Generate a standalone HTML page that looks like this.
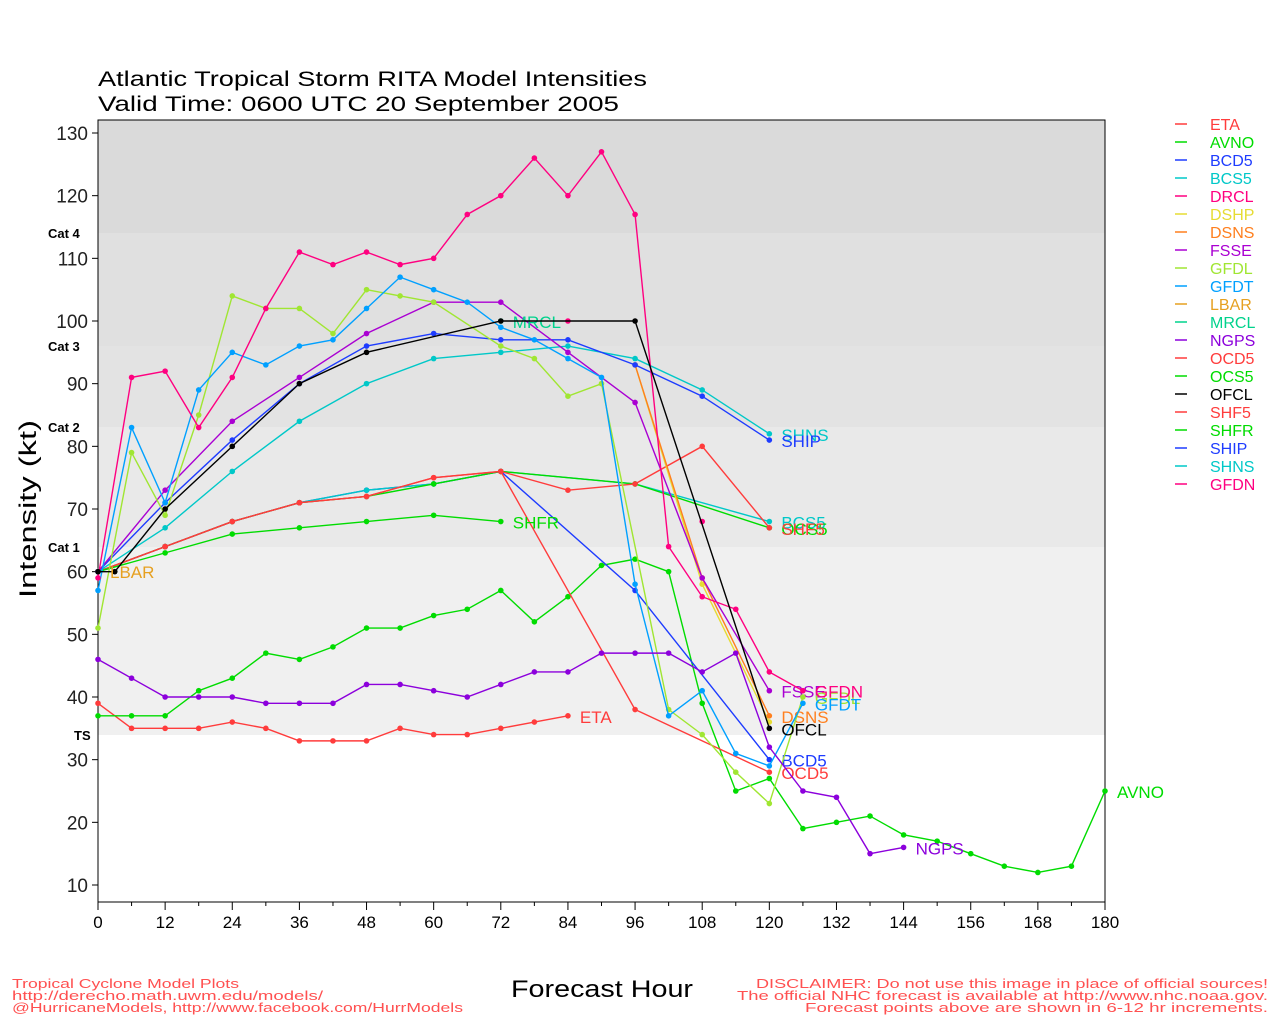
<!DOCTYPE html>
<html><head><meta charset="utf-8"><style>
html,body{margin:0;padding:0;background:#fff;}
svg{display:block;font-family:"Liberation Sans",sans-serif;}
</style></head><body>
<svg id="s" width="1280" height="1024" xmlns="http://www.w3.org/2000/svg">
<rect x="98" y="120" width="1007" height="113" fill="#dadada"/>
<rect x="98" y="233" width="1007" height="113" fill="#e0e0e0"/>
<rect x="98" y="346" width="1007" height="81" fill="#e3e3e3"/>
<rect x="98" y="427" width="1007" height="120" fill="#e9e9e9"/>
<rect x="98" y="547" width="1007" height="188" fill="#f0f0f0"/>
<rect x="98" y="120" width="1007" height="782" fill="none" stroke="#000" stroke-width="1"/>
<text x="98" y="86" font-size="21" fill="#000" textLength="549" lengthAdjust="spacingAndGlyphs">Atlantic Tropical Storm RITA Model Intensities</text>
<text x="98" y="111" font-size="21" fill="#000" textLength="521" lengthAdjust="spacingAndGlyphs">Valid Time: 0600 UTC 20 September 2005</text>
<g font-size="13" font-weight="bold" fill="#000">
<text x="48" y="238">Cat 4</text><text x="48" y="351">Cat 3</text><text x="48" y="432">Cat 2</text><text x="48" y="552">Cat 1</text><text x="74" y="740">TS</text>
</g>
<text transform="translate(36,509) rotate(-90)" text-anchor="middle" font-size="24" fill="#000" textLength="178" lengthAdjust="spacingAndGlyphs">Intensity (kt)</text>
<text x="511" y="997" font-size="24" fill="#000" textLength="182" lengthAdjust="spacingAndGlyphs">Forecast Hour</text>
<g font-size="13" fill="#ff5050">
<text x="12" y="988" textLength="227" lengthAdjust="spacingAndGlyphs">Tropical Cyclone Model Plots</text>
<text x="12" y="1000" textLength="311" lengthAdjust="spacingAndGlyphs">http://derecho.math.uwm.edu/models/</text>
<text x="12" y="1012" textLength="451" lengthAdjust="spacingAndGlyphs">@HurricaneModels, http://www.facebook.com/HurrModels</text>
<text x="756" y="988" textLength="512" lengthAdjust="spacingAndGlyphs">DISCLAIMER: Do not use this image in place of official sources!</text>
<text x="737" y="1000" textLength="531" lengthAdjust="spacingAndGlyphs">The official NHC forecast is available at http://www.nhc.noaa.gov.</text>
<text x="805" y="1012" textLength="463" lengthAdjust="spacingAndGlyphs">Forecast points above are shown in 6-12 hr increments.</text>
</g>
<g id="ax"></g><g id="ser"></g><g id="leg"></g>
</svg>
<script>
var NS="http://www.w3.org/2000/svg";
function X(h){return 98+h*1007/180;}
function Y(v){return 133+(130-v)*752/120;}
function el(p,t,a,txt){var e=document.createElementNS(NS,t);for(var k in a)e.setAttribute(k,a[k]);if(txt!==undefined)e.textContent=txt;p.appendChild(e);return e;}
var ax=document.getElementById('ax');
for(var v=10;v<=130;v+=10){el(ax,'line',{x1:92,x2:98,y1:Y(v),y2:Y(v),stroke:'#000'});el(ax,'text',{x:88,y:Y(v)+7,'text-anchor':'end','font-size':19,fill:'#222'},''+v);}
for(var h=0;h<=180;h+=12){el(ax,'line',{x1:X(h),x2:X(h),y1:902,y2:910,stroke:'#000'});el(ax,'text',{x:X(h),y:928,'text-anchor':'middle','font-size':17,fill:'#000'},''+h);}
for(var h=6;h<180;h+=12){el(ax,'line',{x1:X(h),x2:X(h),y1:902,y2:906,stroke:'#000'});}
var S=[
["ETA","#ff3c3c",[[0,39],[6,35],[12,35],[18,35],[24,36],[30,35],[36,33],[42,33],[48,33],[54,35],[60,34],[66,34],[72,35],[78,36],[84,37]]],
["AVNO","#00dc00",[[0,37],[6,37],[12,37],[18,41],[24,43],[30,47],[36,46],[42,48],[48,51],[54,51],[60,53],[66,54],[72,57],[78,52],[84,56],[90,61],[96,62],[102,60],[108,39],[114,25],[120,27],[126,19],[132,20],[138,21],[144,18],[150,17],[156,15],[162,13],[168,12],[174,13],[180,25]]],
["BCD5","#1e3cff",[[0,60],[12,64],[24,68],[36,71],[48,73],[60,74],[72,76],[96,57],[120,30]]],
["BCS5","#00c8c8",[[0,60],[12,64],[24,68],[36,71],[48,73],[60,74],[72,76],[96,74],[120,68]]],
["OCS5","#00dc00",[[0,60],[12,64],[24,68],[36,71],[48,72],[60,74],[72,76],[96,74],[120,67]]],
["SHF5","#ff3c3c",[[0,60],[12,64],[24,68],[36,71],[48,72],[60,75],[72,76],[84,73],[96,74],[108,80],[120,67]]],
["OCD5","#ff3c3c",[[0,60],[12,64],[24,68],[36,71],[48,72],[60,75],[72,76],[96,38],[120,28]]],
["SHFR","#00dc00",[[0,60],[12,63],[24,66],[36,67],[48,68],[60,69],[72,68]]],
["SHNS","#00c8c8",[[0,60],[12,67],[24,76],[36,84],[48,90],[60,94],[72,95],[84,96],[96,94],[108,89],[120,82]]],
["DSHP","#e6dc32",[[96,93],[108,58],[120,36]]],
["DSNS","#ff7f1e",[[96,93],[108,59],[120,37]]],
["SHIP","#1e3cff",[[0,60],[12,71],[24,81],[36,90],[48,96],[60,98],[72,97],[84,97],[96,93],[108,88],[120,81]]],
["FSSE","#aa00d2",[[0,60],[12,73],[24,84],[36,91],[48,98],[60,103],[72,103],[84,95],[96,87],[108,59],[120,41]]],
["GFDL","#a0e632",[[0,51],[6,79],[12,69],[18,85],[24,104],[30,102],[36,102],[42,98],[48,105],[54,104],[60,103],[72,96],[78,94],[84,88],[90,90],[102,38],[108,34],[114,28],[120,23],[126,40]]],
["GFDT","#00a0ff",[[0,57],[6,83],[12,71],[18,89],[24,95],[30,93],[36,96],[42,97],[48,102],[54,107],[60,105],[66,103],[72,99],[78,97],[84,94],[90,91],[96,58],[102,37],[108,41],[114,31],[120,29],[126,39]]],
["NGPS","#8c00dc",[[0,46],[6,43],[12,40],[18,40],[24,40],[30,39],[36,39],[42,39],[48,42],[54,42],[60,41],[66,40],[72,42],[78,44],[84,44],[90,47],[96,47],[102,47],[108,44],[114,47],[120,32],[126,25],[132,24],[138,15],[144,16]]],
["GFDN","#ff0080",[[0,59],[6,91],[12,92],[18,83],[24,91],[30,102],[36,111],[42,109],[48,111],[54,109],[60,110],[66,117],[72,120],[78,126],[84,120],[90,127],[96,117],[102,64],[108,56],[114,54],[120,44],[126,41]]],
["DRCL","#ff0080",[[84,100],[108,68]]],
["MRCL","#00d28c",[[72,100]]],
["OFCL","#000000",[[0,60],[3,60],[12,70],[24,80],[36,90],[48,95],[72,100],[96,100],[120,35]]]
];
var ser=document.getElementById('ser');
S.forEach(function(s){
 if(s[0]!="DRCL"&&s[2].length>1){el(ser,'polyline',{points:s[2].map(function(p){return X(p[0])+','+Y(p[1]);}).join(' '),fill:'none',stroke:s[1],'stroke-width':1.4});}
 s[2].forEach(function(p){el(ser,'circle',{cx:X(p[0]),cy:Y(p[1]),r:2.8,fill:s[1]});});
 if(s[0]!="DRCL"&&s[0]!="DSHP"){var l=s[2][s[2].length-1];el(ser,'text',{x:X(l[0])+12,y:Y(l[1])+7,'font-size':17,fill:s[1]},s[0]);}
});
el(ser,'text',{x:110,y:578,'font-size':17,fill:'#e6a020'},'LBAR');
var L=[["ETA","#ff3c3c"],["AVNO","#00dc00"],["BCD5","#1e3cff"],["BCS5","#00c8c8"],["DRCL","#ff0080"],["DSHP","#e6dc32"],["DSNS","#ff7f1e"],["FSSE","#aa00d2"],["GFDL","#a0e632"],["GFDT","#00a0ff"],["LBAR","#e6a020"],["MRCL","#00d28c"],["NGPS","#8c00dc"],["OCD5","#ff3c3c"],["OCS5","#00dc00"],["OFCL","#000000"],["SHF5","#ff3c3c"],["SHFR","#00dc00"],["SHIP","#1e3cff"],["SHNS","#00c8c8"],["GFDN","#ff0080"]];
var lg=document.getElementById('leg');
L.forEach(function(l,i){var y=124+i*18;el(lg,'line',{x1:1175,x2:1187,y1:y,y2:y,stroke:l[1],'stroke-width':1.5});el(lg,'text',{x:1210,y:y+6,'font-size':16,fill:l[1]},l[0]);});
</script>
</body></html>
